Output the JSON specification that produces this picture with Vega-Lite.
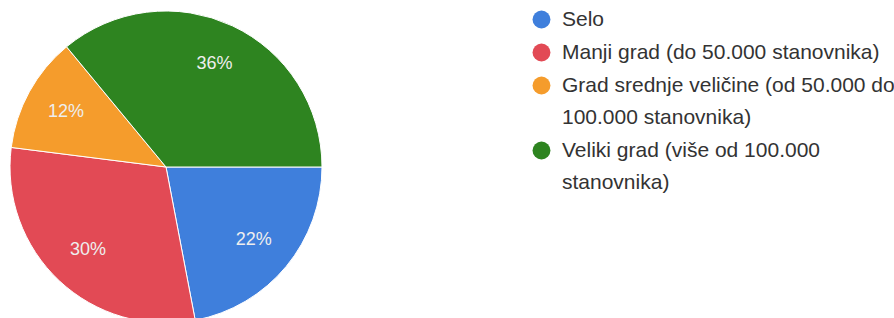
{
  "$schema": "https://vega.github.io/schema/vega-lite/v6.json",
  "width": 332,
  "height": 334,
  "padding": 0,
  "background": "white",
  "view": {"stroke": null},
  "data": {"values": [
    {"cat": "Selo", "share": 0.22, "n": 1},
    {"cat": "Manji grad (do 50.000 stanovnika)", "share": 0.30, "n": 2},
    {"cat": "Grad srednje veličine (od 50.000 do 100.000 stanovnika)", "share": 0.12, "n": 3},
    {"cat": "Veliki grad (više od 100.000 stanovnika)", "share": 0.36, "n": 4}
  ]},
  "encoding": {
    "theta": {"field": "share", "type": "quantitative", "stack": true, "scale": {"range": [1.5708, 7.85398]}},
    "order": {"field": "n", "type": "quantitative"},
    "color": {
      "field": "cat", "type": "nominal",
      "sort": ["Selo", "Manji grad (do 50.000 stanovnika)", "Grad srednje veličine (od 50.000 do 100.000 stanovnika)", "Veliki grad (više od 100.000 stanovnika)"],
      "scale": {
        "domain": ["Selo", "Manji grad (do 50.000 stanovnika)", "Grad srednje veličine (od 50.000 do 100.000 stanovnika)", "Veliki grad (više od 100.000 stanovnika)"],
        "range": ["#3f7fdc", "#e24a55", "#f59c2c", "#2e8420"]
      },
      "legend": {
        "orient": "none",
        "legendX": 531,
        "legendY": 9,
        "title": null,
        "symbolType": "circle",
        "symbolSize": 320,
        "symbolStrokeWidth": 0,
        "symbolOpacity": 1,
        "labelFont": "Liberation Sans",
        "labelFontSize": 21,
        "labelColor": "#333333",
        "labelLimit": 400,
        "labelOffset": 10,
        "rowPadding": 11,
        "encode": {"labels": {"update": {"lineHeight": {"value": 32}}}},
        "labelExpr": "datum.label == 'Grad srednje veličine (od 50.000 do 100.000 stanovnika)' ? ['Grad srednje veličine (od 50.000 do', '100.000 stanovnika)'] : datum.label == 'Veliki grad (više od 100.000 stanovnika)' ? ['Veliki grad (više od 100.000', 'stanovnika)'] : [datum.label]"
      }
    }
  },
  "layer": [
    {"mark": {"type": "arc", "outerRadius": 156, "stroke": "white", "strokeWidth": 1}},
    {
      "mark": {"type": "text", "radius": 114, "font": "Liberation Sans", "fontSize": 18, "fill": "#eeeeee"},
      "encoding": {"text": {"field": "share", "type": "quantitative", "format": ".0%"}}
    }
  ]
}
